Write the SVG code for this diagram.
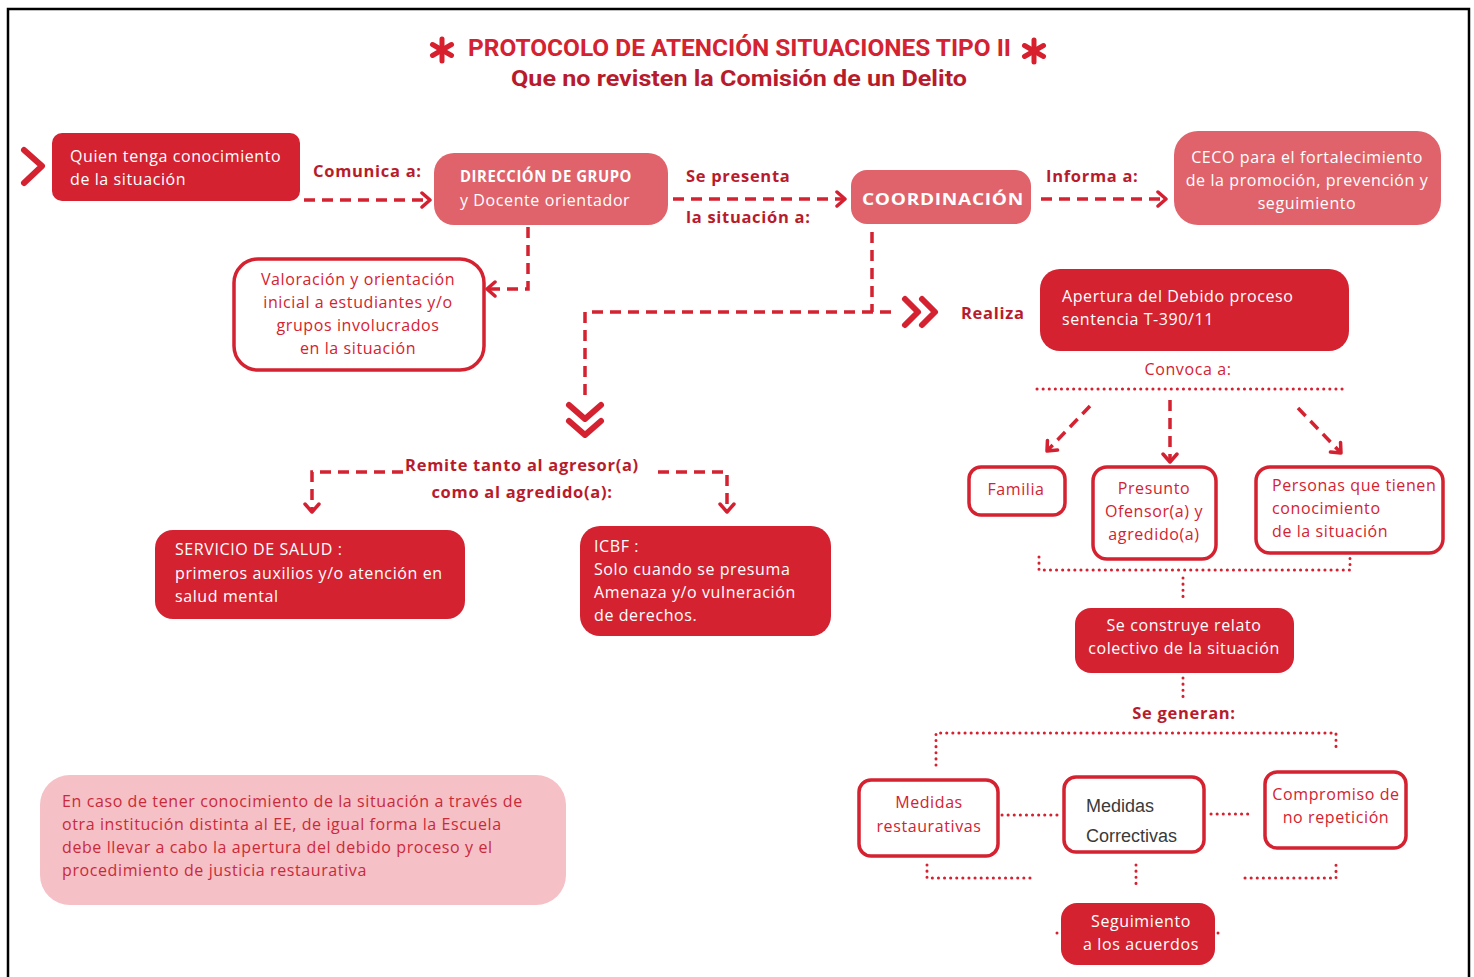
<svg xmlns="http://www.w3.org/2000/svg" width="1474" height="977" viewBox="0 0 1474 977">
<defs>
<marker id="ah" markerUnits="userSpaceOnUse" markerWidth="16" markerHeight="20" refX="11" refY="9" orient="auto">
<path d="M3,2 L11,9 L3,16" fill="none" stroke="#d42030" stroke-width="3.5" stroke-linecap="round" stroke-linejoin="round"/>
</marker>
<style>
.dk{fill:#d42231}
.pk{fill:#e0636b}
.ol{fill:#fff;stroke:#d42231;stroke-width:3.5}
.t{font-family:"Open Sans","Noto Sans",sans-serif;font-size:16px;letter-spacing:0.6px}
.w{fill:#fff}
.r{fill:#d42231}
.lb{font-family:"Open Sans","Noto Sans",sans-serif;font-size:16.5px;font-weight:bold;fill:#b81c2c;letter-spacing:0.7px}
.ds{fill:none;stroke:#d42231;stroke-width:3.5;stroke-dasharray:11 7}
.dt{fill:none;stroke:#d42231;stroke-width:3;stroke-dasharray:0.1 6;stroke-linecap:round}
.ch{fill:none;stroke:#d42231;stroke-width:6;stroke-linecap:round;stroke-linejoin:round}
.mid{text-anchor:middle}
</style>
</defs>
<rect width="1474" height="977" fill="#fff"/>
<path d="M8,977 L8,9 L1469,9 L1469,977" fill="none" stroke="#000" stroke-width="2.5"/>

<g id="title">
<g stroke="#d71f2e" stroke-width="5" stroke-linecap="round">
<line x1="442" y1="39" x2="442" y2="61"/><line x1="432.5" y1="44.5" x2="451.5" y2="55.5"/><line x1="432.5" y1="55.5" x2="451.5" y2="44.5"/>
<line x1="1034" y1="40" x2="1034" y2="62"/><line x1="1024.5" y1="45.5" x2="1043.5" y2="56.5"/><line x1="1024.5" y1="56.5" x2="1043.5" y2="45.5"/>
</g>
<text x="468" y="56" textLength="543" lengthAdjust="spacingAndGlyphs" font-family="Roboto,'Liberation Sans',sans-serif" font-size="23" font-weight="bold" fill="#d42231">PROTOCOLO DE ATENCIÓN SITUACIONES TIPO II</text>
<text x="511" y="86" textLength="456" lengthAdjust="spacingAndGlyphs" font-family="Roboto,'Liberation Sans',sans-serif" font-size="22" font-weight="bold" fill="#b81c2c">Que no revisten la Comisión de un Delito</text>
</g>

<g id="connectors">
<path class="ch" d="M24,150 L42,166 L24,183"/>
<line class="ds" x1="304" y1="200" x2="430" y2="200" marker-end="url(#ah)"/>
<line class="ds" x1="673" y1="199" x2="845" y2="199" marker-end="url(#ah)"/>
<line class="ds" x1="1041" y1="199" x2="1166" y2="199" marker-end="url(#ah)"/>
<path class="ds" d="M528,227 L528,289 L487,289" marker-end="url(#ah)"/>
<path class="ds" d="M872,232 L872,312"/>
<path class="ds" d="M585,395 L585,312 L898,312"/>
<path class="ch" d="M905,299 L918,312 L905,325 M922,299 L935,312 L922,325"/>
<path class="ch" d="M569,405 L585,419 L601,405 M569,421 L585,435 L601,421"/>
<path class="ds" d="M403,472 L312,472 L312,512" marker-end="url(#ah)"/>
<path class="ds" d="M658,472 L727,472 L727,512" marker-end="url(#ah)"/>
<line class="dt" x1="1037" y1="389" x2="1343" y2="389"/>
<line class="ds" x1="1090" y1="406" x2="1047" y2="451" marker-end="url(#ah)"/>
<line class="ds" x1="1170" y1="400" x2="1170" y2="462" marker-end="url(#ah)"/>
<line class="ds" x1="1298" y1="408" x2="1341" y2="453" marker-end="url(#ah)"/>
<path class="dt" d="M1039,557 L1039,570 L1350,570 L1350,553"/>
<line class="dt" x1="1183" y1="578" x2="1183" y2="602"/>
<line class="dt" x1="1183" y1="678" x2="1183" y2="700"/>
<path class="dt" d="M936,765 L936,733 L1336,733 L1336,750"/>
<line class="dt" x1="1002" y1="815" x2="1058" y2="815"/>
<line class="dt" x1="1211" y1="814" x2="1251" y2="814"/>
<path class="dt" d="M927,865 L927,878 L1032,878"/>
<line class="dt" x1="1136" y1="865" x2="1136" y2="887"/>
<path class="dt" d="M1245,878 L1336,878 L1336,862"/>
<circle cx="1057" cy="933" r="1.5" fill="#d42231"/>
<circle cx="1218" cy="933" r="1.5" fill="#d42231"/>
</g>

<g id="labels">
<text class="lb" x="313" y="177">Comunica a:</text>
<text class="lb" x="686" y="182">Se presenta</text>
<text class="lb" x="686" y="223">la situación a:</text>
<text class="lb" x="1046" y="182">Informa a:</text>
<text class="lb" x="961" y="319">Realiza</text>
<text class="lb mid" x="522" y="471">Remite tanto al agresor(a)</text>
<text class="lb mid" x="522" y="498">como al agredido(a):</text>
<text class="t r mid" x="1188" y="375">Convoca a:</text>
<text class="lb mid" x="1184" y="719">Se generan:</text>
</g>

<g id="n-quien">
<rect class="dk" x="52" y="133" width="248" height="68" rx="10"/>
<text class="t w" x="70" y="162">Quien tenga conocimiento</text>
<text class="t w" x="70" y="185">de la situación</text>
</g>

<g id="n-direccion">
<rect class="pk" x="434" y="153" width="234" height="72" rx="20"/>
<text class="t w" x="460" y="182" font-weight="bold" font-size="15" letter-spacing="0" textLength="172" lengthAdjust="spacingAndGlyphs">DIRECCIÓN DE GRUPO</text>
<text class="t w" x="460" y="206" letter-spacing="0.3">y Docente orientador</text>
</g>

<g id="n-coordinacion">
<rect class="pk" x="851" y="170" width="180" height="54" rx="16"/>
<text class="t w" x="862" y="205" font-size="21" font-weight="bold" letter-spacing="0" textLength="162" lengthAdjust="spacingAndGlyphs">COORDINACIÓN</text>
</g>

<g id="n-ceco">
<rect class="pk" x="1174" y="131" width="267" height="94" rx="24"/>
<text class="t w mid" x="1307" y="163" letter-spacing="0.2">CECO para el fortalecimiento</text>
<text class="t w mid" x="1307" y="186" letter-spacing="0.2">de la promoción, prevención y</text>
<text class="t w mid" x="1307" y="209" letter-spacing="0.2">seguimiento</text>
</g>

<g id="n-valoracion">
<rect class="ol" x="234" y="259" width="250" height="111" rx="24"/>
<text class="t r mid" x="358" y="285">Valoración y orientación</text>
<text class="t r mid" x="358" y="308">inicial a estudiantes y/o</text>
<text class="t r mid" x="358" y="331">grupos involucrados</text>
<text class="t r mid" x="358" y="354">en la situación</text>
</g>

<g id="n-apertura">
<rect class="dk" x="1040" y="269" width="309" height="82" rx="20"/>
<text class="t w" x="1062" y="302">Apertura del Debido proceso</text>
<text class="t w" x="1062" y="325">sentencia T-390/11</text>
</g>

<g id="n-salud">
<rect class="dk" x="155" y="530" width="310" height="89" rx="18"/>
<text class="t w" x="175" y="555">SERVICIO DE SALUD :</text>
<text class="t w" x="175" y="579">primeros auxilios y/o atención en</text>
<text class="t w" x="175" y="602">salud mental</text>
</g>

<g id="n-icbf">
<rect class="dk" x="580" y="526" width="251" height="110" rx="20"/>
<text class="t w" x="594" y="552">ICBF :</text>
<text class="t w" x="594" y="575">Solo cuando se presuma</text>
<text class="t w" x="594" y="598">Amenaza y/o vulneración</text>
<text class="t w" x="594" y="621">de derechos.</text>
</g>

<g id="n-familia">
<rect class="ol" x="969" y="467" width="96" height="48" rx="12"/>
<text class="t r mid" x="1016" y="495">Familia</text>
</g>

<g id="n-presunto">
<rect class="ol" x="1093" y="467" width="123" height="92" rx="14"/>
<text class="t r mid" x="1154" y="494" letter-spacing="0.3">Presunto</text>
<text class="t r mid" x="1154" y="517" letter-spacing="0.3">Ofensor(a) y</text>
<text class="t r mid" x="1154" y="540" letter-spacing="0.3">agredido(a)</text>
</g>

<g id="n-personas">
<rect class="ol" x="1256" y="467" width="187" height="86" rx="14"/>
<text class="t r" x="1272" y="491" letter-spacing="0.2">Personas que tienen</text>
<text class="t r" x="1272" y="514" letter-spacing="0.2">conocimiento</text>
<text class="t r" x="1272" y="537" letter-spacing="0.2">de la situación</text>
</g>

<g id="n-relato">
<rect class="dk" x="1075" y="608" width="219" height="65" rx="16"/>
<text class="t w mid" x="1184" y="631" letter-spacing="0.3">Se construye relato</text>
<text class="t w mid" x="1184" y="654" letter-spacing="0.3">colectivo de la situación</text>
</g>

<g id="n-restaurativas">
<rect class="ol" x="859" y="780" width="139" height="76" rx="12"/>
<text class="t r mid" x="929" y="808" letter-spacing="0.2">Medidas</text>
<text class="t r mid" x="929" y="832" letter-spacing="0.2">restaurativas</text>
</g>

<g id="n-correctivas">
<rect class="ol" x="1064" y="777" width="140" height="75" rx="12"/>
<text x="1086" y="812" font-family="'Liberation Sans',Arial,sans-serif" font-size="18" fill="#3a3a3a">Medidas</text>
<text x="1086" y="842" font-family="'Liberation Sans',Arial,sans-serif" font-size="18" fill="#3a3a3a">Correctivas</text>
</g>

<g id="n-compromiso">
<rect class="ol" x="1265" y="772" width="141" height="76" rx="12"/>
<text class="t r mid" x="1336" y="800" letter-spacing="0.1">Compromiso de</text>
<text class="t r mid" x="1336" y="823" letter-spacing="0.1">no repetición</text>
</g>

<g id="n-seguimiento">
<rect class="dk" x="1061" y="903" width="154" height="62" rx="16"/>
<text class="t w mid" x="1141" y="927" letter-spacing="0.3">Seguimiento</text>
<text class="t w mid" x="1141" y="950" letter-spacing="0.3">a los acuerdos</text>
</g>

<g id="n-nota">
<rect x="40" y="775" width="526" height="130" rx="30" fill="#f5c0c6"/>
<text class="t" x="62" y="807" fill="#c92a3a">En caso de tener conocimiento de la situación a través de</text>
<text class="t" x="62" y="830" fill="#c92a3a">otra institución distinta al EE, de igual forma la Escuela</text>
<text class="t" x="62" y="853" fill="#c92a3a">debe llevar a cabo la apertura del debido proceso y el</text>
<text class="t" x="62" y="876" fill="#c92a3a">procedimiento de justicia restaurativa</text>
</g>
</svg>
